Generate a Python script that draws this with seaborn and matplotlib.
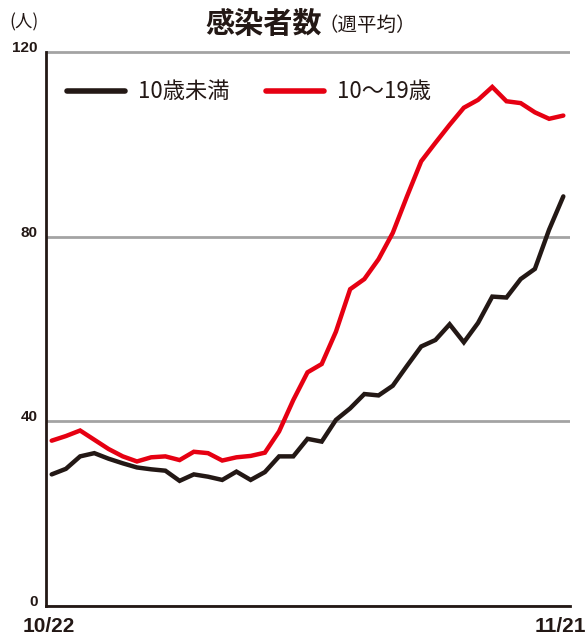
import matplotlib
matplotlib.use("Agg")
import matplotlib.pyplot as plt
import seaborn as sns
import pandas as pd

# ---- data ----
days = list(range(37))
under10 = [28.5, 29.7, 32.4, 33.1, 31.9, 30.9, 30.0, 29.6, 29.3, 27.1,
           28.5, 28.0, 27.3, 29.1, 27.3, 29.0, 32.4, 32.4, 36.2, 35.6,
           40.3, 42.8, 45.9, 45.6, 47.7, 52.0, 56.2, 57.6, 61.0, 57.1,
           61.3, 67.0, 66.8, 70.8, 73.0, 81.5, 88.7]
teens = [35.8, 36.8, 38.0, 36.0, 34.0, 32.4, 31.3, 32.2, 32.4, 31.6,
         33.4, 33.1, 31.5, 32.2, 32.5, 33.2, 37.8, 44.6, 50.6, 52.4,
         59.4, 68.6, 70.8, 75.1, 80.8, 88.7, 96.3, 100.3, 104.2, 107.9,
         109.6, 112.4, 109.3, 108.9, 106.9, 105.5, 106.2]
series_names = ["10歳未満", "10～19歳"]
yticks = [0, 40, 80, 120]
xtick_labels = ["10/22", "11/21"]

df = pd.DataFrame({
    "day": days * 2,
    "value": under10 + teens,
    "group": [series_names[0]] * len(days) + [series_names[1]] * len(days),
})

INK = "#231815"
RED = "#e60012"
GRID = "#a3a3a3"
CJK = ["Noto Sans CJK JP", "DejaVu Sans"]
NUM = ["Liberation Sans", "DejaVu Sans"]

sns.set_theme(style="white")
plt.rcParams["font.family"] = CJK

fig = plt.figure(figsize=(5.88, 6.37), dpi=100)
left, right = 46 / 588, 570 / 588
bottom, top = 1 - 606 / 637, 1 - 50 / 637
ax = fig.add_axes([left, bottom, right - left, top - bottom])

sns.lineplot(data=df, x="day", y="value", hue="group",
             palette={series_names[0]: INK, series_names[1]: RED},
             linewidth=3.2, ax=ax, legend=True)
for ln in ax.get_lines():
    ln.set_solid_capstyle("round")
    ln.set_solid_joinstyle("miter")

ax.set_xlim(-0.4, 36.47)
ax.set_ylim(0, 120.4)
ax.set_xlabel("")
ax.set_ylabel("")

# grid + spines
ax.set_yticks(yticks)
ax.yaxis.grid(True, color=GRID, linewidth=2.0)
ax.xaxis.grid(False)
for s in ["top", "right"]:
    ax.spines[s].set_visible(False)
for s in ["left", "bottom"]:
    ax.spines[s].set_color(INK)
    ax.spines[s].set_linewidth(2.0)
ax.spines["left"].set_bounds(0, 120)

ax.tick_params(axis="y", length=0, pad=6)
ax.set_yticklabels([str(v) for v in yticks])
for lab in ax.get_yticklabels():
    lab.set_family(NUM)
    lab.set_fontweight("bold")
    lab.set_fontsize(11)
    lab.set_color(INK)
    lab.set_va("baseline")

ax.set_xticks([-0.23, 35.8])
ax.set_xticklabels(xtick_labels)
ax.tick_params(axis="x", length=0, pad=8)
for lab in ax.get_xticklabels():
    lab.set_family(NUM)
    lab.set_fontweight("bold")
    lab.set_fontsize(15)
    lab.set_color(INK)

# legend
handles, labels = ax.get_legend_handles_labels()
for h in handles:
    h.set_linewidth(4.0)
    h.set_solid_capstyle("round")
leg = ax.legend(handles, labels, loc="center left",
                bbox_to_anchor=(67 / 588, 1 - 92 / 637),
                bbox_transform=fig.transFigure, ncol=2, frameon=False,
                handlelength=2.6, handletextpad=0.6, columnspacing=1.65,
                borderpad=0, borderaxespad=0,
                prop={"family": CJK, "size": 16})
for t in leg.get_texts():
    t.set_color(INK)

# titles
fig.text(322 / 588, 1 - 24 / 637, "感染者数", ha="right", va="center",
         fontsize=21, fontweight="bold", color=INK, family=CJK)
fig.text(319 / 588, 1 - 25 / 637, "（週平均）", ha="left", va="center",
         fontsize=14, color=INK, family=CJK)
fig.text(24 / 588, 1 - 22 / 637, "(人)", ha="center", va="center",
         fontsize=12.5, color=INK, family=CJK)

fig.savefig("out.png", dpi=100)
